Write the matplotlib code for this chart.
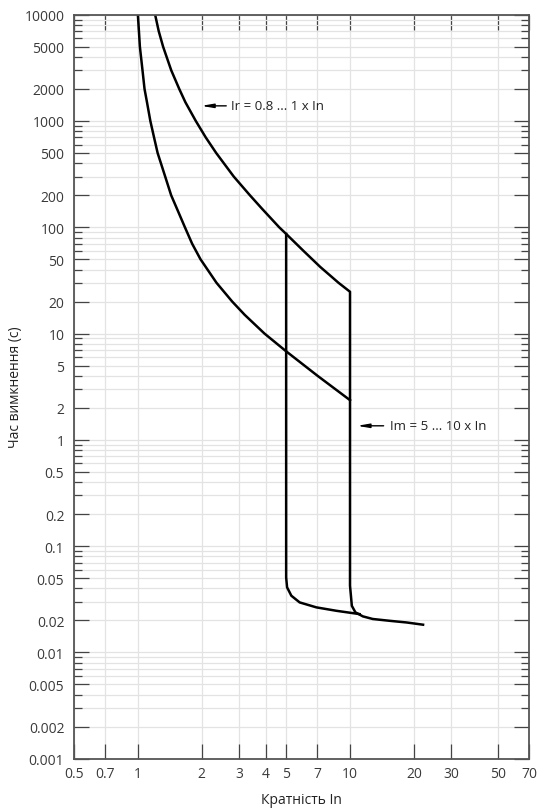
import numpy as np
import matplotlib
matplotlib.use('Agg')
import matplotlib.pyplot as plt

plt.rcParams['font.family'] = ['Open Sans', 'DejaVu Sans']

# upper curve (Ir = 1 x In) with its instantaneous part at 10 x In
upper_x = [1.206, 1.254, 1.315, 1.436, 1.567, 1.675, 1.875, 2.089, 2.339, 2.83, 3.373, 3.84,
           4.634, 5.0, 6.03, 7.23, 8.83, 10.0,
           10.0, 10.1, 10.2, 10.6, 11.5, 12.8, 15.4, 18.5, 22.1]
upper_t = [10000, 7000, 5000, 3000, 2000, 1500, 1000, 700, 500, 300, 200, 150,
           100, 86.5, 60, 42.4, 30, 24.7,
           0.0423, 0.0341, 0.0274, 0.0238, 0.0218, 0.0206, 0.0198, 0.0191, 0.0182]

# lower curve (Ir = 0.8 x In)
lower_x = [1.0, 1.0115, 1.022, 1.0515, 1.075, 1.104, 1.145, 1.192, 1.239, 1.345, 1.435, 1.527,
           1.666, 1.802, 1.973, 2.348, 2.783, 3.187, 3.95, 5.0, 7.03, 10.0]
lower_t = [10000, 7000, 5000, 3000, 2000, 1500, 1000, 700, 500, 300, 200, 150,
           100, 70, 50, 30, 20, 15, 10, 6.8, 4.0, 2.36]

# instantaneous trip at 5 x In
im5_x = [5.0, 5.0, 5.05, 5.29, 5.79, 6.94, 8.63, 11.1]
im5_t = [86.5, 0.0508, 0.0409, 0.0341, 0.0295, 0.0265, 0.0246, 0.0229]

x_ticks = [0.5, 0.7, 1, 2, 3, 4, 5, 7, 10, 20, 30, 50, 70]
x_labels = ['0.5', '0.7', '1', '2', '3', '4', '5', '7', '10', '20', '30', '50', '70']
y_ticks = [0.001, 0.002, 0.005, 0.01, 0.02, 0.05, 0.1, 0.2, 0.5, 1, 2, 5,
           10, 20, 50, 100, 200, 500, 1000, 2000, 5000, 10000]
y_labels = ['0.001', '0.002', '0.005', '0.01', '0.02', '0.05', '0.1', '0.2', '0.5', '1', '2', '5',
            '10', '20', '50', '100', '200', '500', '1000', '2000', '5000', '10000']
y_minor = [m * 10.0 ** e for e in range(-3, 4) for m in (3, 4, 6, 7, 8, 9)]

label_ir = 'Ir = 0.8 ... 1 x In'
label_im = 'Im = 5 ... 10 x In'

fig = plt.figure(figsize=(5.39, 8.12), dpi=100)
ax = fig.add_axes([0.1373, 0.0645, 0.8447, 0.9162])

ax.set_xscale('log')
ax.set_yscale('log')
ax.set_xlim(0.5, 70)
ax.set_ylim(0.001, 10000)

ax.set_xticks(x_ticks)
ax.set_xticklabels(x_labels)
ax.xaxis.set_minor_locator(matplotlib.ticker.NullLocator())
ax.set_yticks(y_ticks)
ax.set_yticklabels(y_labels)
ax.set_yticks(y_minor, minor=True)
ax.yaxis.set_minor_formatter(matplotlib.ticker.NullFormatter())

ax.grid(True, which='major', color='#e3e3e3', lw=0.9)
ax.grid(True, which='minor', axis='y', color='#e3e3e3', lw=0.9)
ax.set_axisbelow(True)

ax.tick_params(which='major', direction='in', length=10.5, width=0.9, color='#444444',
               top=True, right=True, labelsize=10, labelcolor='#3a3a3a')
ax.tick_params(which='minor', direction='in', length=5.5, width=0.9, color='#444444',
               top=True, right=True)
ax.tick_params(axis='y', which='major', pad=7)
ax.tick_params(axis='x', which='major', pad=5)
for s in ax.spines.values():
    s.set_color('#555555')
    s.set_linewidth(1.3)

ax.plot(upper_x, upper_t, color='black', lw=1.8, solid_joinstyle='round')
ax.plot(lower_x, lower_t, color='black', lw=1.8, solid_joinstyle='round')
ax.plot(im5_x, im5_t, color='black', lw=1.8, solid_joinstyle='round')

arrow = dict(arrowstyle='-|>,head_length=0.7,head_width=0.12', color='black', lw=1.0,
             shrinkA=0, shrinkB=0)
ax.annotate('', xy=(1.99, 1387), xytext=(2.61, 1387), arrowprops=arrow)
ax.text(2.76, 1387, label_ir, va='center', ha='left', fontsize=9.5, color='#222222')
ax.annotate('', xy=(10.8, 1.354), xytext=(14.4, 1.354), arrowprops=arrow)
ax.text(15.4, 1.354, label_im, va='center', ha='left', fontsize=9.5, color='#222222')

ax.set_xlabel('Кратність In', fontsize=10, color='#222222', labelpad=8)
ax.set_ylabel('Час вимкнення (с)', fontsize=10, color='#222222')
ax.yaxis.set_label_coords(-0.112, 0.5)

fig.savefig('out.png', dpi=100)
